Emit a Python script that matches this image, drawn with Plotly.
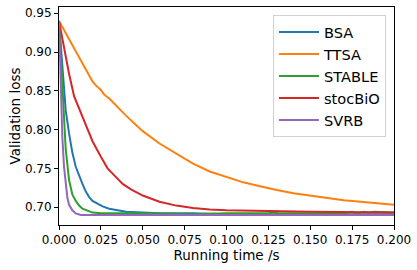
import plotly.graph_objects as go

# BSA
bsa_t = [0, 0.002, 0.004, 0.006, 0.008, 0.010, 0.012, 0.014, 0.016, 0.018, 0.020, 0.023, 0.026, 0.030, 0.035, 0.040, 0.050, 0.060, 0.080, 0.100, 0.120, 0.150, 0.175, 0.200]
bsa_v = [0.940, 0.880, 0.825, 0.795, 0.770, 0.752, 0.740, 0.730, 0.720, 0.713, 0.708, 0.704, 0.701, 0.698, 0.696, 0.694, 0.693, 0.692, 0.692, 0.691, 0.691, 0.691, 0.691, 0.691]
# TTSA
ttsa_t = [0, 0.005, 0.010, 0.015, 0.020, 0.022, 0.025, 0.027, 0.030, 0.040, 0.050, 0.060, 0.070, 0.075, 0.080, 0.090, 0.100, 0.110, 0.120, 0.130, 0.140, 0.150, 0.160, 0.170, 0.180, 0.190, 0.200]
ttsa_v = [0.940, 0.920, 0.900, 0.880, 0.862, 0.857, 0.851, 0.845, 0.840, 0.818, 0.798, 0.782, 0.769, 0.762, 0.756, 0.746, 0.739, 0.732, 0.727, 0.722, 0.718, 0.715, 0.712, 0.709, 0.707, 0.705, 0.703]
# STABLE
stable_t = [0, 0.002, 0.004, 0.006, 0.008, 0.010, 0.012, 0.014, 0.017, 0.020, 0.025, 0.030, 0.050, 0.080, 0.100, 0.125, 0.128, 0.131, 0.150, 0.170, 0.175, 0.178, 0.182, 0.185, 0.188, 0.200]
stable_v = [0.940, 0.850, 0.775, 0.735, 0.716, 0.708, 0.702, 0.698, 0.695, 0.693, 0.692, 0.692, 0.692, 0.691, 0.692, 0.692, 0.693, 0.692, 0.692, 0.692, 0.694, 0.692, 0.694, 0.693, 0.694, 0.693]
# stocBiO
stoc_t = [0, 0.003, 0.006, 0.009, 0.012, 0.015, 0.020, 0.025, 0.029, 0.033, 0.038, 0.043, 0.050, 0.060, 0.070, 0.080, 0.090, 0.100, 0.120, 0.150, 0.200]
stoc_v = [0.940, 0.905, 0.872, 0.843, 0.827, 0.810, 0.785, 0.765, 0.750, 0.741, 0.730, 0.723, 0.715, 0.707, 0.702, 0.699, 0.697, 0.696, 0.695, 0.694, 0.693]
# SVRB
svrb_t = [0, 0.001, 0.002, 0.003, 0.004, 0.005, 0.006, 0.008, 0.010, 0.013, 0.016, 0.020, 0.050, 0.100, 0.150, 0.200]
svrb_v = [0.940, 0.850, 0.790, 0.752, 0.728, 0.712, 0.703, 0.696, 0.692, 0.690, 0.690, 0.690, 0.690, 0.690, 0.690, 0.690]

series = [
    ("BSA", bsa_t, bsa_v, "#1f77b4"),
    ("TTSA", ttsa_t, ttsa_v, "#ff7f0e"),
    ("STABLE", stable_t, stable_v, "#2ca02c"),
    ("stocBiO", stoc_t, stoc_v, "#d62728"),
    ("SVRB", svrb_t, svrb_v, "#9467bd"),
]

x_ticks = [0.0, 0.025, 0.05, 0.075, 0.1, 0.125, 0.15, 0.175, 0.2]
x_labels = ["0.000", "0.025", "0.050", "0.075", "0.100", "0.125", "0.150", "0.175", "0.200"]
y_ticks = [0.70, 0.75, 0.80, 0.85, 0.90, 0.95]
y_labels = ["0.70", "0.75", "0.80", "0.85", "0.90", "0.95"]

fig = go.Figure()
for name, t, v, c in series:
    fig.add_trace(go.Scatter(x=t, y=v, mode="lines", name=name,
                             line=dict(color=c, width=2)))

axis_common = dict(showgrid=False, zeroline=False, showline=True, linecolor="black",
                   linewidth=1, mirror=True, ticks="outside", ticklen=4, tickcolor="black",
                   automargin=False,
                   tickfont=dict(family="DejaVu Sans", size=12, color="black"))

fig.update_layout(
    width=417, height=270,
    margin=dict(l=59, r=23, t=7, b=45),
    paper_bgcolor="white", plot_bgcolor="white",
    font=dict(family="DejaVu Sans", color="black"),
    xaxis=dict(range=[0, 0.2], tickvals=x_ticks, ticktext=x_labels,
               title=dict(text="Running time /s", font=dict(size=13.5), standoff=4),
               **axis_common),
    yaxis=dict(range=[0.677, 0.958], tickvals=y_ticks, ticktext=y_labels,
               title=dict(text="Validation loss", font=dict(size=13.5), standoff=1),
               **axis_common),
    legend=dict(x=0.976, y=0.963, xanchor="right", yanchor="top",
                bgcolor="rgba(255,255,255,0.8)", bordercolor="#d0d0d0", borderwidth=1,
                font=dict(size=14.6, color="black"), tracegroupgap=0, itemwidth=40),
    showlegend=True,
)

fig.write_html("out.html", config={"displayModeBar": False},
               post_script="document.body.style.margin='0px';document.body.style.overflow='hidden';")
